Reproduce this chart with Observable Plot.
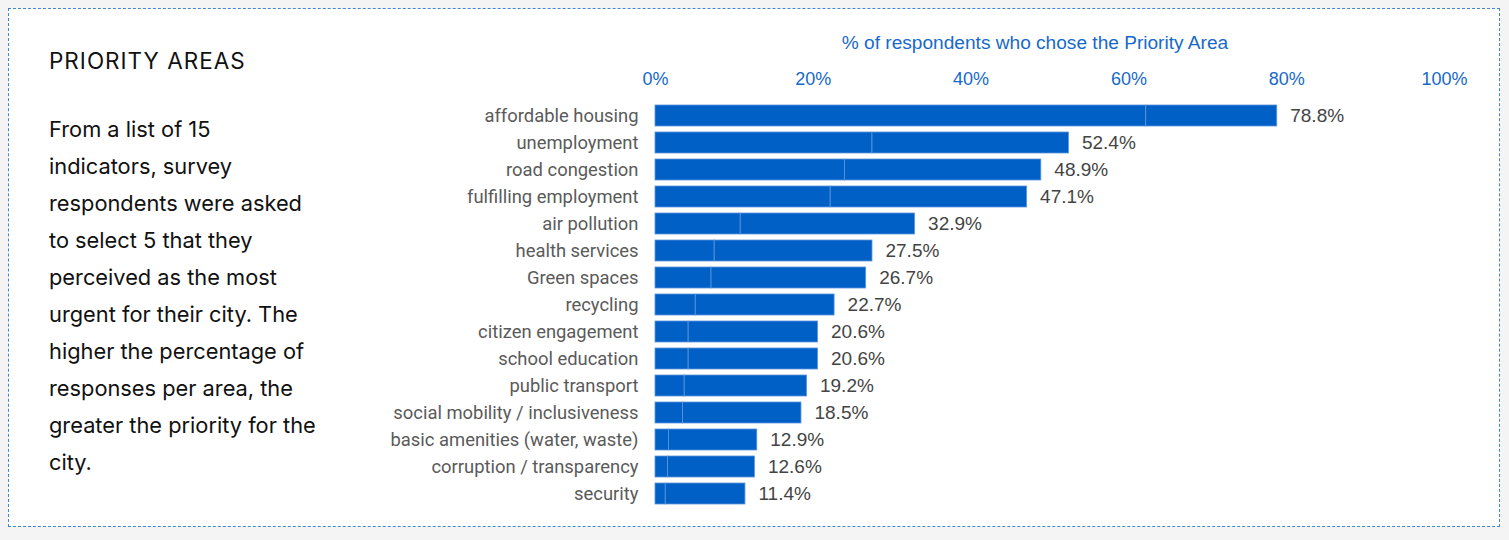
<!DOCTYPE html>
<html>
<head>
<meta charset="utf-8">
<script src="https://cdn.jsdelivr.net/npm/d3@7"></script>
<script src="https://cdn.jsdelivr.net/npm/@observablehq/plot@0.6"></script>
<style>
  html, body { margin: 0; padding: 0; background: #f4f4f4; }
  #box {
    position: absolute; left: 8px; top: 8px; width: 1490px; height: 517px;
    border: 1px dashed #3f86d8; background: #fff;
  }
  #title {
    position: absolute; left: 40px; top: 38px; margin: 0; white-space: nowrap;
    font-family: Inter, "Open Sans", sans-serif; font-weight: 400; font-size: 22.5px;
    letter-spacing: 1px; color: #111; line-height: 28px;
  }
  #desc {
    position: absolute; left: 40px; top: 102px; margin: 0; white-space: nowrap;
    font-family: Inter, "Open Sans", sans-serif; font-size: 21.8px; line-height: 37px; color: #111;
  }
  #chart { position: absolute; left: 371px; top: 11px; line-height: 0; }
</style>
</head>
<body>
<div id="box">
  <h2 id="title">PRIORITY AREAS</h2>
  <p id="desc">From a list of 15<br>indicators, survey<br>respondents were asked<br>to select 5 that they<br>perceived as the most<br>urgent for their city. The<br>higher the percentage of<br>responses per area, the<br>greater the priority for the<br>city.</p>
  <div id="chart"></div>
</div>
<script>
const categories = [
  "affordable housing", "unemployment", "road congestion", "fulfilling employment",
  "air pollution", "health services", "Green spaces", "recycling",
  "citizen engagement", "school education", "public transport",
  "social mobility / inclusiveness", "basic amenities (water, waste)",
  "corruption / transparency", "security"
];
const totals = [78.8, 52.4, 48.9, 47.1, 32.9, 27.5, 26.7, 22.7, 20.6, 20.6, 19.2, 18.5, 12.9, 12.6, 11.4];
const firstSegment = [62.2, 27.5, 24.0, 22.2, 10.8, 7.5, 7.1, 5.1, 4.2, 4.2, 3.7, 3.5, 1.7, 1.6, 1.3];
const xTicks = [0, 20, 40, 60, 80, 100];
const axisTitle = "% of respondents who chose the Priority Area";

const segments = [];
categories.forEach((c, i) => {
  segments.push({category: c, part: "a", value: firstSegment[i]});
  segments.push({category: c, part: "b", value: totals[i] - firstSegment[i]});
});
const totalRows = categories.map((c, i) => ({category: c, total: totals[i]}));

const blue = "#0060c6";
const chart = Plot.plot({
  width: 1114,
  height: 506,
  marginLeft: 275,
  marginRight: 50,
  marginTop: 76,
  marginBottom: 12,
  style: {fontFamily: "'Liberation Sans', Arial, sans-serif", background: "transparent"},
  x: {domain: [0, 100]},
  y: {domain: categories, padding: 0.22},
  marks: [
    Plot.barX(segments, {
      x: "value", y: "category", fill: blue, stroke: "#5c95dc", strokeWidth: 0.8
    }),
    Plot.text(totalRows, {
      x: "total", y: "category", text: d => d.total.toFixed(1) + "%",
      dx: 13, textAnchor: "start", fill: "#444", fontSize: 19
    }),
    Plot.axisX({
      anchor: "top", ticks: xTicks, tickFormat: d => d + "%", tickSize: 0,
      tickPadding: 12, fontSize: 18, fill: "#1769c9", color: "#1769c9", label: null
    }),
    Plot.text([axisTitle], {
      frameAnchor: "top", lineAnchor: "middle", dy: -54, dx: -15,
      fill: "#1769c9", fontSize: 19.1
    }),
    Plot.axisY({
      anchor: "left", tickSize: 0, tickPadding: 17, fontSize: 18.4, fill: "#5a5a5a",
      fontFamily: "Roboto, sans-serif", label: null
    })
  ]
});
document.getElementById("chart").appendChild(chart);
</script>
</body>
</html>
